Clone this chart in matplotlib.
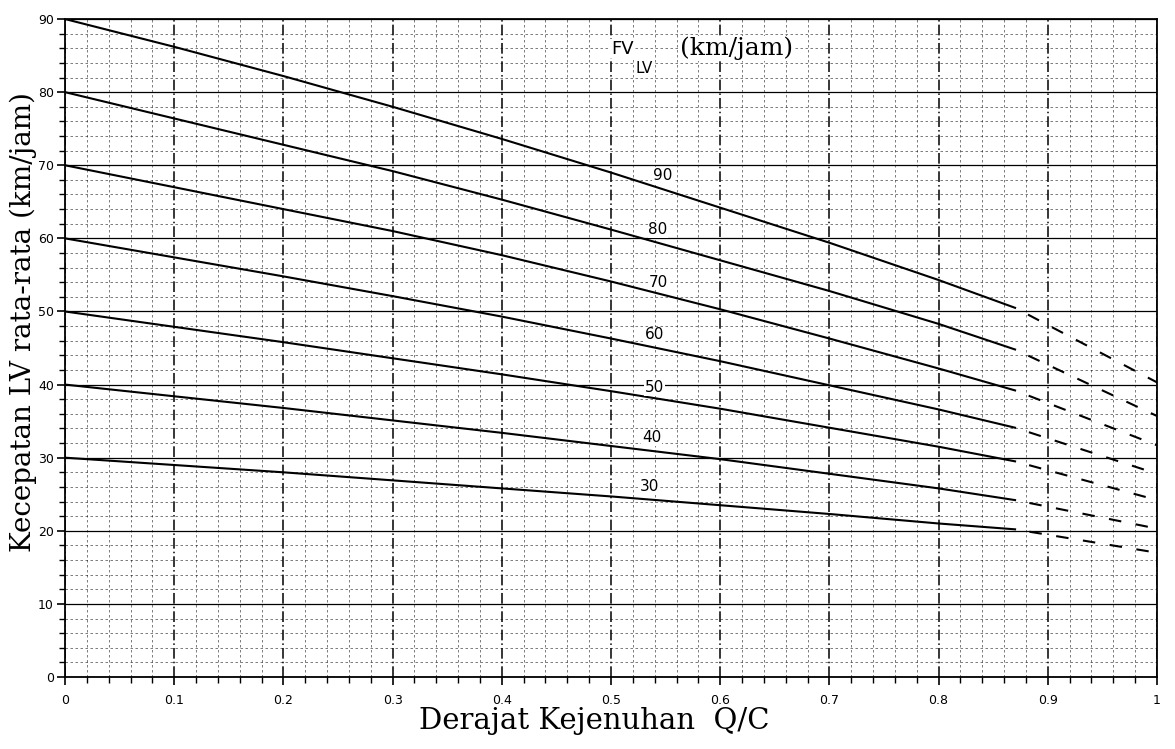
import numpy as np
import matplotlib
matplotlib.use("Agg")
import matplotlib.pyplot as plt
from matplotlib.ticker import MultipleLocator

# Q/C points on the solid part of each curve
qc = [0, 0.1, 0.2, 0.3, 0.4, 0.5, 0.6, 0.7, 0.8, 0.87]
fv_levels = [90, 80, 70, 60, 50, 40, 30]
speed = {
    90: [90, 86.2, 82.2, 78.0, 73.6, 69.0, 64.2, 59.4, 54.3, 50.5],
    80: [80, 76.4, 72.8, 69.2, 65.3, 61.2, 57.0, 52.8, 48.3, 44.8],
    70: [70, 67.0, 64.0, 61.0, 57.7, 54.1, 50.3, 46.3, 42.2, 39.2],
    60: [60, 57.4, 54.8, 52.1, 49.3, 46.3, 43.2, 39.9, 36.6, 34.1],
    50: [50, 47.9, 45.8, 43.6, 41.4, 39.1, 36.7, 34.1, 31.5, 29.5],
    40: [40, 38.4, 36.8, 35.1, 33.4, 31.6, 29.8, 27.8, 25.8, 24.2],
    30: [30, 29.0, 28.0, 26.9, 25.8, 24.7, 23.5, 22.3, 21.0, 20.2],
}
# dashed extension from Q/C 0.87 to 1.0
qc_dash = [0.87, 1.0]
speed_end = {90: 40.3, 80: 35.7, 70: 31.7, 60: 27.8, 50: 24.2, 40: 20.3, 30: 17.0}

# curve labels (x, y)
label_pos = {90: (0.547, 68.6), 80: (0.543, 61.2), 70: (0.543, 54.0),
             60: (0.54, 46.8), 50: (0.54, 39.6), 40: (0.537, 32.7), 30: (0.535, 26.0)}

fig = plt.figure(figsize=(11.75, 7.49), dpi=100)
ax = fig.add_axes([0.0553, 0.0961, 0.9294, 0.8785])

# grid
ax.xaxis.set_major_locator(MultipleLocator(0.1))
ax.xaxis.set_minor_locator(MultipleLocator(0.02))
ax.yaxis.set_major_locator(MultipleLocator(10))
ax.yaxis.set_minor_locator(MultipleLocator(2))
ax.grid(which='minor', axis='both', color='black', linestyle=(0, (3, 3)), linewidth=0.6, alpha=0.6)
ax.grid(which='major', axis='x', color='black', linestyle=(0, (7, 2, 1, 2)), linewidth=1.1)
ax.grid(which='major', axis='y', color='black', linestyle='-', linewidth=0.9)
ax.set_axisbelow(True)

for fv in fv_levels:
    ax.plot(qc, speed[fv], color='black', linewidth=1.5)
    ax.plot(qc_dash, [speed[fv][-1], speed_end[fv]], color='black',
            linewidth=1.5, linestyle=(6, (6, 7)))
    lx, ly = label_pos[fv]
    ax.text(lx, ly, str(fv), fontsize=11, ha='center', va='center',
            family='DejaVu Sans', bbox=dict(facecolor='white', edgecolor='none', pad=0.5))

ax.set_xlim(0, 1)
ax.set_ylim(0, 90)
ax.set_xticks(np.arange(0, 1.01, 0.1))
ax.set_xticklabels(['0', '0.1', '0.2', '0.3', '0.4', '0.5', '0.6', '0.7', '0.8', '0.9', '1'])
ax.set_yticks(np.arange(0, 91, 10))
ax.tick_params(axis='both', which='major', labelsize=9, length=6, width=1.2)
ax.tick_params(axis='x', which='major', pad=6)
ax.tick_params(axis='y', which='major', pad=2)
ax.tick_params(axis='both', which='minor', length=4, width=1.0)
for sp in ax.spines.values():
    sp.set_linewidth(1.3)

ax.set_xlabel('Derajat Kejenuhan  Q/C', family='DejaVu Serif', fontsize=21)
ax.set_ylabel('Kecepatan LV rata-rata (km/jam)', family='DejaVu Serif', fontsize=20)
ax.xaxis.set_label_coords(0.485, -0.045)
ax.yaxis.set_label_coords(-0.026, 0.54)

ax.text(0.50, 0.955, 'FV', transform=ax.transAxes, fontsize=13, va='center', ha='left',
        bbox=dict(facecolor='white', edgecolor='none', pad=0.5))
ax.text(0.522, 0.925, 'LV', transform=ax.transAxes, fontsize=11, va='center', ha='left',
        bbox=dict(facecolor='white', edgecolor='none', pad=0.5))
ax.text(0.563, 0.955, '(km/jam)', transform=ax.transAxes, fontsize=18, va='center',
        ha='left', family='DejaVu Serif', bbox=dict(facecolor='white', edgecolor='none', pad=0.5))

fig.savefig('out.png', dpi=100)
